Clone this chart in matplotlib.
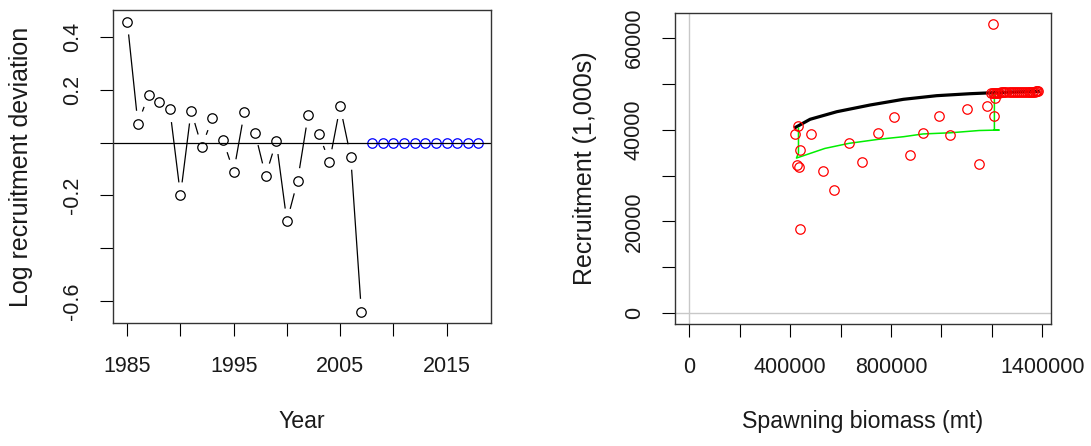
import numpy as np
import matplotlib
matplotlib.use('Agg')
import matplotlib.pyplot as plt

plt.rcParams['font.family'] = ['Liberation Sans', 'DejaVu Sans']

# Left panel: log recruitment deviations
years = list(range(1985, 2008))
rec_dev = [0.458, 0.072, 0.181, 0.155, 0.126, -0.199, 0.121, -0.016, 0.093, 0.010,
           -0.111, 0.116, 0.038, -0.126, 0.005, -0.298, -0.145, 0.105, 0.033, -0.073,
           0.137, -0.054, -0.640]
proj_years = list(range(2008, 2019))
proj_dev = [0, 0, 0, 0, 0, 0, 0, 0, 0, 0, 0]

# Right panel: stock-recruitment
ssb_obs = [430e3, 420e3, 484e3, 438e3, 426e3, 434e3, 439e3, 529e3, 575e3, 633e3,
           685e3, 748e3, 812e3, 875e3, 927e3, 991e3, 1035e3, 1101e3, 1150e3, 1179e3,
           1210e3, 1214e3, 1204e3]
rec_obs = [40850, 38970, 38970, 35490, 32290, 31920, 18350, 31050, 26910, 37080,
           32940, 39190, 42670, 34470, 39260, 42960, 38890, 44480, 32570, 45200,
           42960, 46810, 62920]
ssb_proj = [1198e3, 1204e3, 1210e3, 1216e3, 1222e3, 1229e3, 1236e3, 1243e3, 1250e3,
            1258e3, 1266e3, 1274e3, 1282e3, 1290e3, 1298e3, 1306e3, 1314e3, 1322e3,
            1330e3, 1338e3, 1346e3, 1352e3, 1358e3, 1364e3, 1370e3, 1376e3, 1380e3,
            1384e3]
rec_proj = [47950, 47980, 48000, 48020, 48040, 48060, 48080, 48100, 48110, 48120,
            48140, 48150, 48160, 48180, 48190, 48200, 48210, 48220, 48230, 48240,
            48250, 48260, 48270, 48280, 48290, 48300, 48300, 48310]
# expected recruitment curve
sr_ssb = [422e3, 479e3, 585e3, 717e3, 849e3, 981e3, 1113e3, 1206e3, 1300e3, 1384e3]
sr_rec = [40500, 42240, 43890, 45350, 46590, 47380, 47810, 48030, 48200, 48320]
# bias adjusted curve
adj_ssb = [433e3, 433e3, 425e3, 538e3, 633e3, 750e3, 850e3, 927e3, 1035e3, 1150e3,
           1229e3, 1210e3, 1210e3]
adj_rec = [40300, 34900, 33800, 35900, 37000, 37880, 38450, 39050, 39300, 39800,
           39900, 39900, 47500]

W, H = 1091, 446
fig = plt.figure(figsize=(W / 100, H / 100), dpi=100)
txt = '#1a1a1a'

def px_axes(x0, y0, x1, y1):
    return fig.add_axes([x0 / W, 1 - y1 / H, (x1 - x0) / W, (y1 - y0) / H])

def r_style(ax):
    for s in ax.spines.values():
        s.set_color('#333333')
        s.set_linewidth(1.0)
    ax.tick_params(length=9.5, width=0.8, color='black', labelsize=15.5, labelcolor=txt)
    ax.tick_params(axis='x', pad=14)
    ax.tick_params(axis='y', pad=12, labelrotation=90)
    for lab in ax.get_yticklabels():
        lab.set_va('center')

mk = dict(marker='o', markersize=6.8, markerfacecolor='none', markeredgewidth=0.9,
          linestyle='none')

# ---- left panel
ax1 = px_axes(112.7, 10, 491, 323.3)
ax1.set_xlim(1983.63, 2019.18)
ax1.set_ylim(-0.684, 0.502)
fig.canvas.draw()

# type="b" style: segments with a gap around each point
pts = ax1.transData.transform(np.column_stack([years, rec_dev]))
gap = 13.5
inv = ax1.transData.inverted()
for p, q in zip(pts[:-1], pts[1:]):
    d = q - p
    L = np.hypot(*d)
    if L > 2 * gap:
        u = d / L
        a, b = inv.transform([p + u * gap, q - u * gap])
        ax1.plot([a[0], b[0]], [a[1], b[1]], color='black', lw=0.9)
ax1.plot(years, rec_dev, color='black', **mk)
ax1.plot(proj_years, proj_dev, color='blue', **mk)
ax1.axhline(0, color='black', lw=0.9)

ax1.set_xticks([1985, 1990, 1995, 2000, 2005, 2010, 2015])
ax1.set_xticklabels(['1985', '', '1995', '', '2005', '', '2015'])
ax1.set_yticks([-0.6, -0.4, -0.2, 0.0, 0.2, 0.4])
ax1.set_yticklabels(['-0.6', '', '-0.2', '', '0.2', '0.4'])
r_style(ax1)
ax1.set_xlabel('Year', fontsize=16.7, color=txt)
ax1.set_ylabel('Log recruitment deviation', fontsize=18, color=txt)
ax1.xaxis.set_label_coords(0.5, -0.277)
ax1.yaxis.set_label_coords(-0.211, 0.5)

# ---- right panel
ax2 = px_axes(674.7, 12.7, 1051, 324.3)
ax2.set_xlim(-57900, 1434500)
ax2.set_ylim(-2400, 65450)
ax2.axvline(0, color='#c8c8c8', lw=1.0)
ax2.axhline(0, color='#c8c8c8', lw=1.0)
ax2.plot(sr_ssb, sr_rec, color='black', lw=2.3)
ax2.plot(adj_ssb, adj_rec, color='#00ee00', lw=1.1)
ax2.plot(ssb_obs, rec_obs, color='red', **mk)
ax2.plot(ssb_proj, rec_proj, color='red', **mk)

ax2.set_xticks([0, 200000, 400000, 600000, 800000, 1000000, 1200000, 1400000])
ax2.set_xticklabels(['0', '', '400000', '', '800000', '', '', '1400000'])
ax2.set_yticks([0, 10000, 20000, 30000, 40000, 50000, 60000])
ax2.set_yticklabels(['0', '', '20000', '', '40000', '', '60000'])
r_style(ax2)
ax2.set_xlabel('Spawning biomass (mt)', fontsize=16.7, color=txt)
ax2.set_ylabel('Recruitment (1,000s)', fontsize=18, color=txt)
ax2.xaxis.set_label_coords(0.5, -0.275)
ax2.yaxis.set_label_coords(-0.206, 0.5)

fig.savefig('out.png', dpi=100)
